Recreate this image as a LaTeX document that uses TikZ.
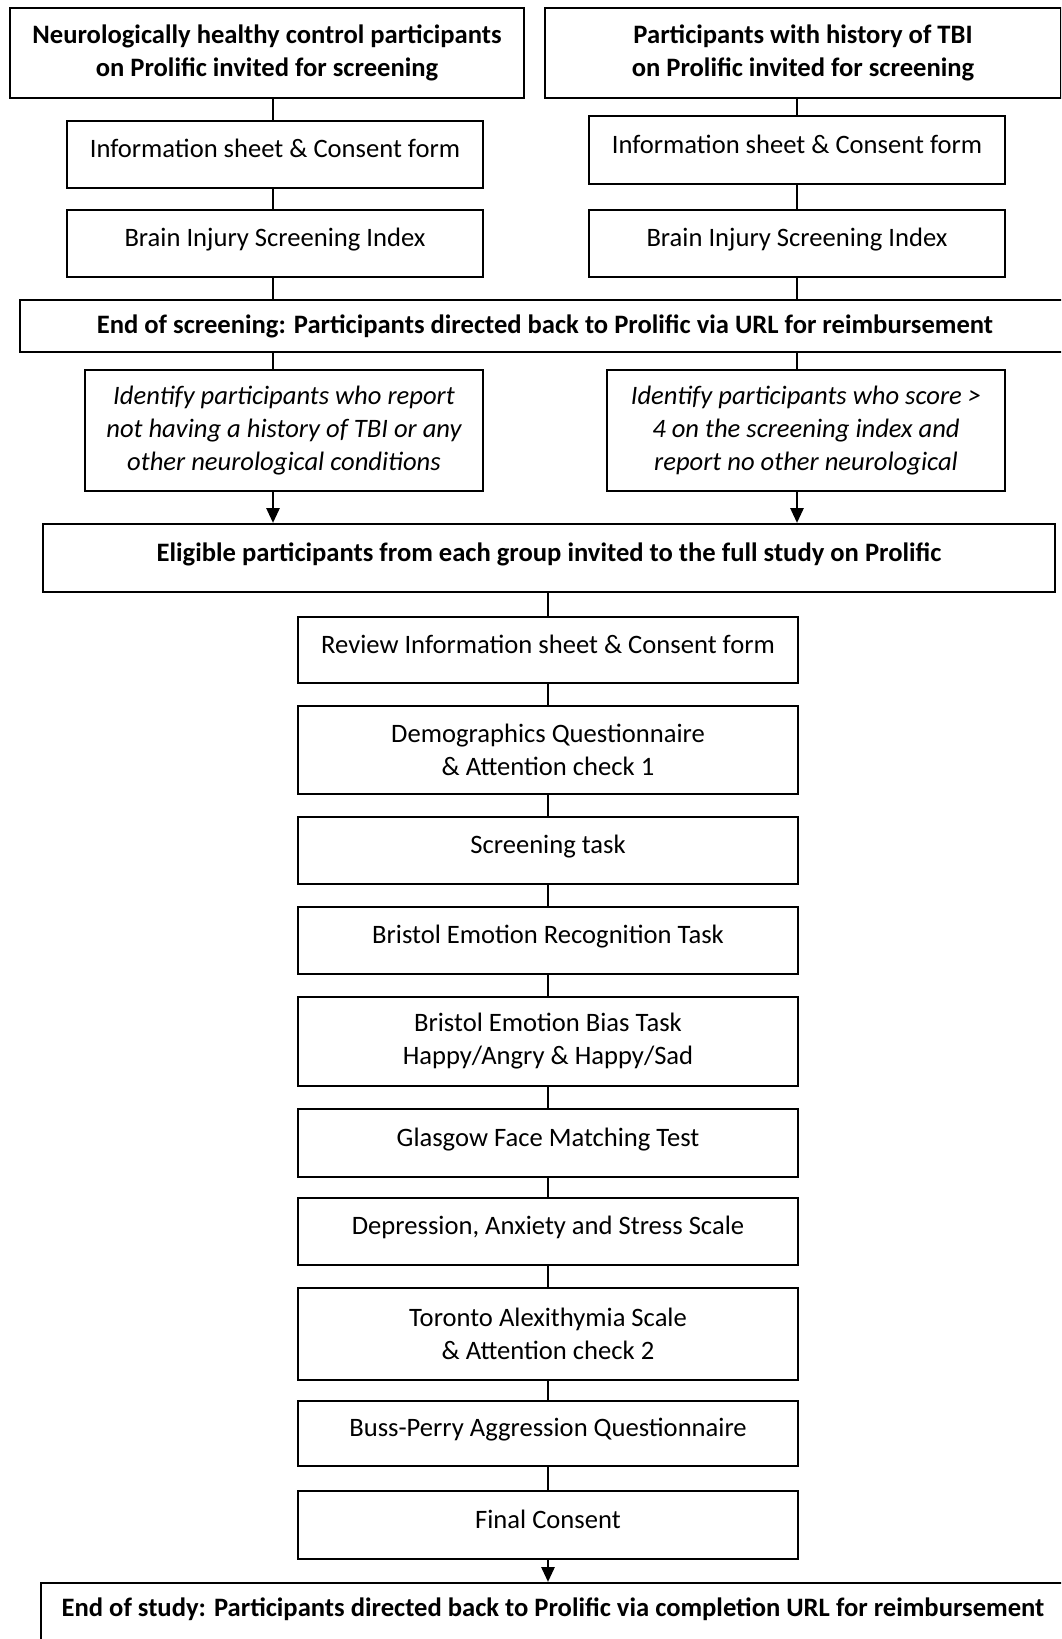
\documentclass[tikz,border=0pt]{standalone}
\usepackage{fontspec}
\setmainfont{Carlito}
\usetikzlibrary{arrows.meta}
\definecolor{Ink}{HTML}{000000}

\begin{document}
\begin{tikzpicture}[x=1pt,y=-1pt,
    stage/.style={draw=Ink,line width=2pt,align=center,inner sep=0pt,font=\fontsize{26.6}{33}\selectfont},
    headbox/.style={stage,font=\fontsize{26.6}{33}\selectfont\bfseries},
    pickbox/.style={stage,font=\fontsize{26.6}{33}\selectfont\itshape},
    oneline/.style={text height=18pt,text depth=12pt},
    link/.style={draw=Ink,line width=2.8pt},
    feed/.style={link,-{Triangle[length=15pt,width=13pt]}}]
    \useasboundingbox (0,0) rectangle (1061,1639);
    \clip (0,0) rectangle (1061,1639);
    \coordinate (colL) at (273,0);
    \coordinate (colR) at (797,0);
    \node[headbox,minimum width=514pt,minimum height=90pt] (ctrl) at (267,53) {Neurologically healthy control participants\\on Prolific invited for screening};
    \node[headbox,minimum width=516pt,minimum height=90pt] (tbi) at (803,53) {Participants with history of TBI\\on Prolific invited for screening};
    \node[stage,oneline,minimum width=416pt,minimum height=67pt] (ctrlInfo) at (275,154.5) {Information sheet \& Consent form};
    \node[stage,oneline,minimum width=416pt,minimum height=68pt] (tbiInfo) at (797,150) {Information sheet \& Consent form};
    \node[stage,oneline,minimum width=416pt,minimum height=67pt] (ctrlBisi) at (275,243.5) {Brain Injury Screening Index};
    \node[stage,oneline,minimum width=416pt,minimum height=67pt] (tbiBisi) at (797,243.5) {Brain Injury Screening Index};
    \node[headbox,minimum width=1050pt,minimum height=52pt] (endScr) at (545,326) {End of screening: Participants directed back to Prolific via URL for reimbursement};
    \node[pickbox,minimum width=398pt,minimum height=121pt] (ctrlPick) at (284,430.5) {Identify participants who report\\not having a history of TBI or any\\other neurological conditions};
    \node[pickbox,minimum width=398pt,minimum height=121pt] (tbiPick) at (806,430.5) {Identify participants who score >\\4 on the screening index and\\report no other neurological};
    \node[headbox,oneline,minimum width=1012pt,minimum height=68pt] (elig) at (549,558) {Eligible participants from each group invited to the full study on Prolific};
    \node[stage,oneline,minimum width=500pt,minimum height=66pt] (review) at (548,650) {Review Information sheet \& Consent form};
    \node[stage,minimum width=500pt,minimum height=88pt] (demo) at (548,750) {Demographics Questionnaire\\\& Attention check 1};
    \node[stage,oneline,minimum width=500pt,minimum height=67pt] (scrTask) at (548,850.5) {Screening task};
    \node[stage,oneline,minimum width=500pt,minimum height=67pt] (bert) at (548,940.5) {Bristol Emotion Recognition Task};
    \node[stage,minimum width=500pt,minimum height=89pt] (bebt) at (548,1041.5) {Bristol Emotion Bias Task\\Happy/Angry \& Happy/Sad};
    \node[stage,oneline,minimum width=500pt,minimum height=68pt] (gfmt) at (548,1143) {Glasgow Face Matching Test};
    \node[stage,oneline,minimum width=500pt,minimum height=67pt] (dass) at (548,1231.5) {Depression, Anxiety and Stress Scale};
    \node[stage,minimum width=500pt,minimum height=92pt] (tas) at (548,1334) {Toronto Alexithymia Scale\\\& Attention check 2};
    \node[stage,oneline,minimum width=500pt,minimum height=65pt] (bpaq) at (548,1433.5) {Buss-Perry Aggression Questionnaire};
    \node[stage,oneline,minimum width=500pt,minimum height=68pt] (final) at (548,1525) {Final Consent};
    \node[headbox,oneline,minimum width=1024pt,minimum height=60pt] (endStudy) at (553,1613) {End of study: Participants directed back to Prolific via completion URL for reimbursement};
    \draw[link] (ctrl.south -| colL) -- (ctrlInfo.north -| colL);
    \draw[link] (ctrlInfo.south -| colL) -- (ctrlBisi.north -| colL);
    \draw[link] (ctrlBisi.south -| colL) -- (endScr.north -| colL);
    \draw[link] (endScr.south -| colL) -- (ctrlPick.north -| colL);
    \draw[feed] (ctrlPick.south -| colL) -- (elig.north -| colL);
    \draw[link] (tbi.south -| colR) -- (tbiInfo.north -| colR);
    \draw[link] (tbiInfo.south -| colR) -- (tbiBisi.north -| colR);
    \draw[link] (tbiBisi.south -| colR) -- (endScr.north -| colR);
    \draw[link] (endScr.south -| colR) -- (tbiPick.north -| colR);
    \draw[feed] (tbiPick.south -| colR) -- (elig.north -| colR);
    \draw[link] (elig.south -| review.north) -- (review.north);
    \foreach \a/\b in {review/demo,demo/scrTask,scrTask/bert,bert/bebt,bebt/gfmt,gfmt/dass,dass/tas,tas/bpaq,bpaq/final}
      \draw[link] (\a.south) -- (\b.north);
    \draw[feed] (final.south) -- (endStudy.north -| final.south);
  \end{tikzpicture}
\end{document}
